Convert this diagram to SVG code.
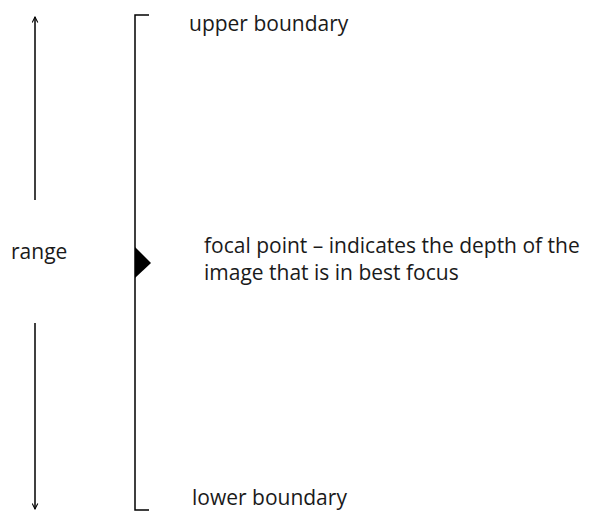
<svg xmlns="http://www.w3.org/2000/svg" width="593" height="513" viewBox="0 0 593 513">
<defs>
<style>
text{font-family:"Open Sans","Noto Sans",sans-serif;font-size:21px;fill:#1a1a1a}
.ln{stroke:#000;stroke-width:1.5;fill:none}
</style>
<marker id="ah" viewBox="0 0 10 10" refX="9" refY="5" markerWidth="7" markerHeight="7" orient="auto" markerUnits="userSpaceOnUse">
<path d="M1,1 L9,5 L1,9" fill="none" stroke="#000" stroke-width="1.5"/>
</marker>
</defs>
<rect width="593" height="513" fill="#fff"/>
<g id="connectors">
<line class="ln" x1="35" y1="200" x2="35" y2="17" marker-end="url(#ah)"/>
<line class="ln" x1="35" y1="323" x2="35" y2="509" marker-end="url(#ah)"/>
</g>
<g id="bracket">
<path class="ln" d="M149,15 H135 V510 H149"/>
<polygon points="135,247 151,263 135,278" fill="#000"/>
</g>
<g id="range"><text x="11" y="259">range</text></g>
<g id="upper"><text x="189" y="31">upper boundary</text></g>
<g id="focal"><text x="204" y="253">focal point – indicates the depth of the</text><text x="204" y="280">image that is in best focus</text></g>
<g id="lower"><text x="192" y="505">lower boundary</text></g>
</svg>
